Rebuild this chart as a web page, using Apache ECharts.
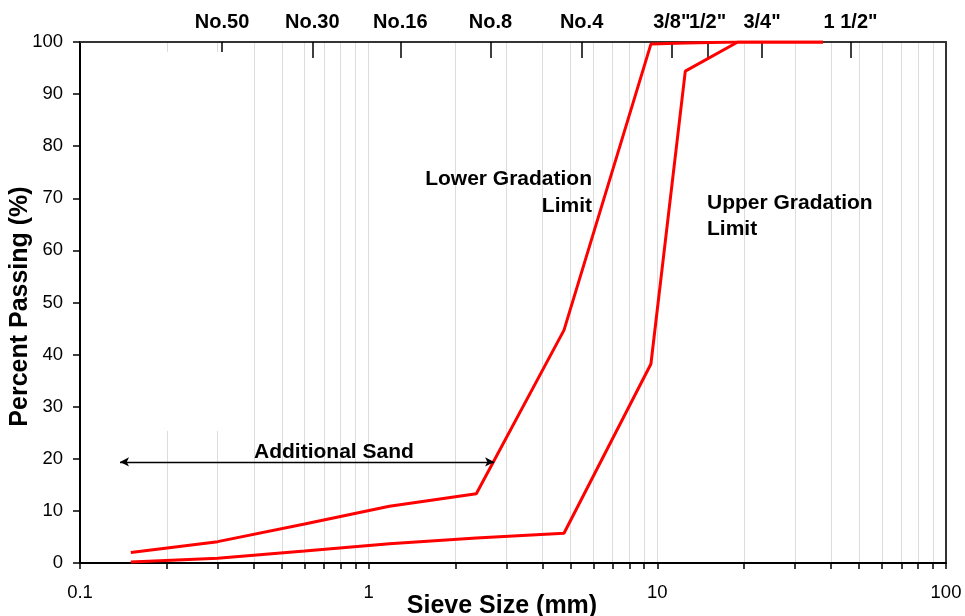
<!DOCTYPE html>
<html>
<head>
<meta charset="utf-8">
<script src="https://cdn.jsdelivr.net/npm/echarts@6/dist/echarts.min.js"></script>
<style>
  html, body { margin: 0; padding: 0; background: #fff; }
  #chart { width: 965px; height: 616px; }
</style>
</head>
<body>
<div id="chart"></div>
<script>
// sieve sizes in mm
const sieveSizes = [0.15, 0.3, 0.6, 1.18, 2.36, 4.75, 9.5, 12.5, 19, 37.5]
// percent passing
const lowerLimit = [2.0, 4.1, 7.5, 10.9, 13.3, 44.7, 99.6, 99.8, 100, 100]
const upperLimit = [0.2, 0.9, 2.3, 3.7, 4.8, 5.7, 38.2, 94.4, 100, 100]

// sieve names on the top axis
const sieveNames = ['No.50', 'No.30', 'No.16', 'No.8', 'No.4', '3/8"', '1/2"', '3/4"', '1 1/2"']
const sieveNameSizes = [0.3, 0.6, 1.18, 2.36, 4.75, 9.5, 12.5, 19, 37.5]

// bottom log axis ticks
const logTicks = [
  0.1, 0.2, 0.3, 0.4, 0.5, 0.6, 0.7, 0.8, 0.9,
  1, 2, 3, 4, 5, 6, 7, 8, 9,
  10, 20, 30, 40, 50, 60, 70, 80, 90, 100
]
const logLabels = [0.1, 1, 10, 100]

// "Additional Sand" arrow, [size mm, percent]
const sandArrow = [[0.1376, 19.4], [2.72, 19.4]]

const toPairs = vals => sieveSizes.map((s, i) => [s, vals[i]])

const chart = echarts.init(document.getElementById('chart'))

const boldFont = 'bold 21px "Liberation Sans", Arial, sans-serif'

const option = {
  animation: false,
  backgroundColor: '#fff',
  textStyle: { fontFamily: '"Liberation Sans", Arial, sans-serif' },
  grid: {
    left: 80,
    right: 19,
    top: 42,
    bottom: 53,
    containLabel: false,
    outerBoundsMode: 'none'
  },
  xAxis: [
    {
      type: 'log',
      logBase: 10,
      min: 0.1,
      max: 100,
      position: 'bottom',
      name: 'Sieve Size (mm)',
      nameLocation: 'middle',
      nameGap: 31,
      nameMoveOverlap: false,
      nameTextStyle: {
        fontSize: 25,
        fontWeight: 'bold',
        color: '#000',
        verticalAlign: 'top',
        padding: [0, 22, 0, 0]
      },
      axisLine: { show: true, onZero: false, lineStyle: { color: '#000', width: 2 } },
      axisTick: {
        show: true,
        inside: false,
        length: 6,
        customValues: logTicks,
        lineStyle: { color: '#000', width: 1.5 }
      },
      axisLabel: {
        customValues: logLabels,
        fontSize: 18.5,
        color: '#000',
        margin: 20,
        formatter: v => String(v)
      },
      splitLine: { show: true, lineStyle: { color: '#dcdcdc', width: 1 } }
    },
    {
      type: 'log',
      logBase: 10,
      min: 0.1007,
      max: 78.1,
      position: 'top',
      axisLine: { show: true, onZero: false, lineStyle: { color: '#333', width: 2 } },
      axisTick: {
        show: true,
        inside: true,
        length: 16,
        customValues: sieveNameSizes,
        lineStyle: { color: '#000', width: 1.5 }
      },
      axisLabel: {
        customValues: sieveNameSizes,
        fontSize: 20,
        fontWeight: 'bold',
        color: '#000',
        margin: 10,
        hideOverlap: false,
        formatter: v => {
          const i = sieveNameSizes.findIndex(s => Math.abs(s - v) < 1e-6)
          return i >= 0 ? sieveNames[i] : ''
        }
      },
      splitLine: { show: false }
    }
  ],
  yAxis: [
    {
      type: 'value',
      min: 0,
      max: 100,
      interval: 10,
      position: 'left',
      name: 'Percent Passing (%)',
      nameLocation: 'middle',
      nameRotate: 90,
      nameGap: 47,
      nameMoveOverlap: false,
      nameTextStyle: {
        fontSize: 25,
        fontWeight: 'bold',
        color: '#000',
        padding: [0, 8, 0, 0]
      },
      axisLine: { show: true, onZero: false, lineStyle: { color: '#000', width: 2 } },
      axisTick: { show: true, inside: false, length: 7, lineStyle: { color: '#000', width: 1.5 } },
      axisLabel: { fontSize: 18.5, color: '#000', margin: 17 },
      splitLine: { show: false }
    },
    {
      type: 'value',
      min: 0,
      max: 100,
      position: 'right',
      axisLine: { show: true, onZero: false, lineStyle: { color: '#333', width: 2 } },
      axisTick: { show: false },
      axisLabel: { show: false },
      splitLine: { show: false }
    }
  ],
  series: [
    {
      name: 'Lower Gradation Limit',
      type: 'line',
      xAxisIndex: 0,
      yAxisIndex: 0,
      data: toPairs(lowerLimit),
      showSymbol: false,
      symbol: 'none',
      lineStyle: { color: '#ff0000', width: 3 },
      z: 3,
      markLine: {
        silent: true,
        symbol: ['arrow', 'arrow'],
        symbolSize: [7, 9],
        label: { show: false },
        lineStyle: { color: '#000', width: 1.3, type: 'solid' },
        data: [[{ coord: sandArrow[0] }, { coord: sandArrow[1] }]]
      }
    },
    {
      name: 'Upper Gradation Limit',
      type: 'line',
      xAxisIndex: 0,
      yAxisIndex: 0,
      data: toPairs(upperLimit),
      showSymbol: false,
      symbol: 'none',
      lineStyle: { color: '#ff0000', width: 3 },
      z: 3
    }
  ],
  graphic: [
    // white box that hides part of the 0.2 / 0.3 gridlines, as in the original
    {
      type: 'rect',
      z: 1,
      silent: true,
      shape: { x: 150, y: 52, width: 90, height: 379 },
      style: { fill: '#fff' }
    },
    {
      type: 'text',
      z: 10,
      x: 592,
      y: 193,
      style: {
        text: 'Lower Gradation\nLimit',
        font: boldFont,
        fill: '#000',
        align: 'right',
        verticalAlign: 'middle',
        lineHeight: 27
      }
    },
    {
      type: 'text',
      z: 10,
      x: 707,
      y: 216,
      style: {
        text: 'Upper Gradation\nLimit',
        font: boldFont,
        fill: '#000',
        align: 'left',
        verticalAlign: 'middle',
        lineHeight: 26
      }
    },
    {
      type: 'text',
      z: 10,
      x: 254,
      y: 452,
      style: {
        text: 'Additional Sand',
        font: boldFont,
        fill: '#000',
        align: 'left',
        verticalAlign: 'middle'
      }
    }
  ]
}

chart.setOption(option)
</script>
</body>
</html>
